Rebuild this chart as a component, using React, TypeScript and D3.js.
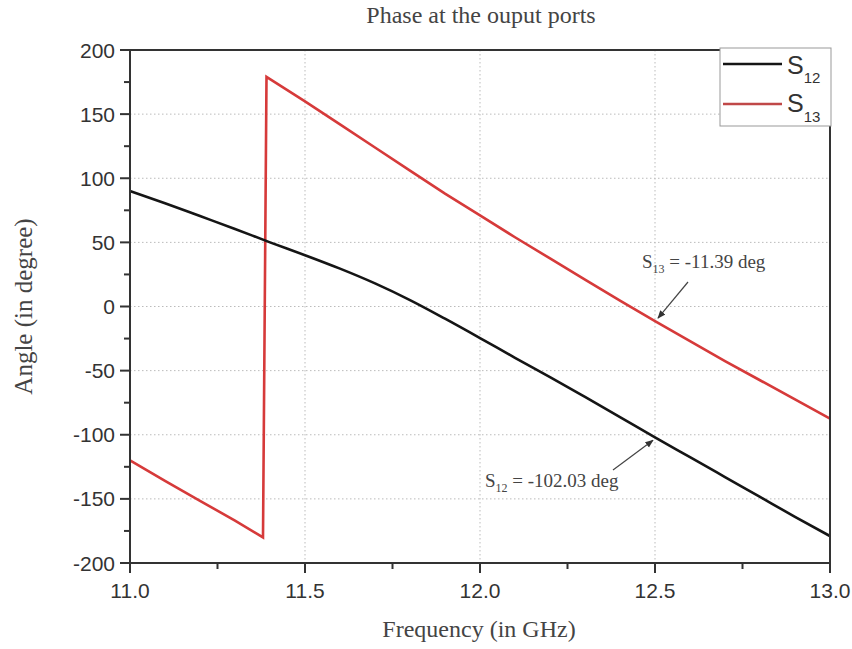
import * as d3 from "d3";

// frequency grid (GHz) and phase values (deg)
const s12Freq = [11.0, 11.1, 11.2, 11.3, 11.4, 11.5, 11.6, 11.7, 11.8, 11.9, 12.0, 12.1, 12.2, 12.3, 12.4, 12.5, 12.6, 12.7, 12.8, 12.9, 13.0];
const s12Phase = [90, 80.5, 70.5, 60.5, 50, 40, 29.5, 18, 5, -9.5, -24.6, -40, -55, -70.5, -86.2, -102.03, -117.5, -133, -148.5, -164, -179];

const s13Freq = [11.0, 11.1, 11.2, 11.3, 11.38, 11.39, 11.5, 11.6, 11.7, 11.8, 11.9, 12.0, 12.1, 12.2, 12.3, 12.4, 12.5, 12.6, 12.7, 12.8, 12.9, 13.0];
const s13Phase = [-120, -136, -151.5, -167, -180, 179, 160, 142, 124, 106, 88, 71, 54, 37.5, 21, 4.5, -11.39, -27, -42.5, -57.5, -72.5, -87.5];

const xTicks = [11.0, 11.5, 12.0, 12.5, 13.0];
const xMinor = [11.25, 11.75, 12.25, 12.75];
const yTicks = [200, 150, 100, 50, 0, -50, -100, -150, -200];
const yMinor = [175, 125, 75, 25, -25, -75, -125, -175];

const W = 852;
const H = 649;
const margin = { top: 50, right: 22, bottom: 86, left: 130 };

const App = () => {
  const x = d3.scaleLinear().domain([11, 13]).range([margin.left, W - margin.right]);
  const y = d3.scaleLinear().domain([-200, 200]).range([H - margin.bottom, margin.top]);

  const line = d3
    .line<[number, number]>()
    .x((d) => x(d[0]))
    .y((d) => y(d[1]));
  const smooth = d3
    .line<[number, number]>()
    .x((d) => x(d[0]))
    .y((d) => y(d[1]))
    .curve(d3.curveMonotoneX);

  const s12 = s12Freq.map((f, i) => [f, s12Phase[i]] as [number, number]);
  const s13 = s13Freq.map((f, i) => [f, s13Phase[i]] as [number, number]);

  const x0 = x(11);
  const x1 = x(13);
  const y0 = y(-200);
  const y1 = y(200);
  const axisColor = "#333";
  const sans = "Liberation Sans, Arial, sans-serif";
  const serif = "Liberation Serif, Times New Roman, serif";

  // points the two annotation arrows aim at
  const p13 = [x(12.5), y(-11.39)];
  const p12 = [x(12.5), y(-102.03)];

  return (
    <svg width={W} height={H} style={{ position: "absolute", left: 0, top: 0 }}>
      <defs>
        <marker id="arrow" viewBox="0 0 10 10" refX="9" refY="5" markerWidth="7" markerHeight="7" orient="auto">
          <path d="M0,1 L10,5 L0,9 Z" fill="#333" />
        </marker>
      </defs>
      <rect width={W} height={H} fill="#fff" />

      {/* title */}
      <text x={481} y={23} textAnchor="middle" fontFamily={serif} fontSize={24} fill="#444">
        Phase at the ouput ports
      </text>

      {/* grid */}
      <g stroke="#bbb" strokeDasharray="1.5,2.5" strokeWidth={1}>
        {xTicks.slice(1, -1).map((t) => (
          <line key={t} x1={x(t)} x2={x(t)} y1={y1} y2={y0} />
        ))}
        {yTicks.slice(1, -1).map((t) => (
          <line key={t} x1={x0} x2={x1} y1={y(t)} y2={y(t)} />
        ))}
      </g>

      {/* curves */}
      <path d={line(s13) ?? ""} fill="none" stroke="#d63a3a" strokeWidth={2.6} />
      <path d={smooth(s12) ?? ""} fill="none" stroke="#151515" strokeWidth={2.6} />

      {/* frame */}
      <rect x={x0} y={y1} width={x1 - x0} height={y0 - y1} fill="none" stroke={axisColor} strokeWidth={2} />

      {/* ticks */}
      <g stroke={axisColor} strokeWidth={2}>
        {yTicks.map((t) => (
          <line key={t} x1={x0 - 10} x2={x0} y1={y(t)} y2={y(t)} />
        ))}
        {yMinor.map((t) => (
          <line key={t} x1={x0 - 6} x2={x0} y1={y(t)} y2={y(t)} />
        ))}
        {xTicks.map((t) => (
          <line key={t} x1={x(t)} x2={x(t)} y1={y0} y2={y0 + 10} />
        ))}
        {xMinor.map((t) => (
          <line key={t} x1={x(t)} x2={x(t)} y1={y0} y2={y0 + 6} />
        ))}
      </g>
      <g fontFamily={sans} fontSize={21} fill="#333">
        {yTicks.map((t) => (
          <text key={t} x={x0 - 15} y={y(t)} dy="0.36em" textAnchor="end">
            {t}
          </text>
        ))}
        {xTicks.map((t) => (
          <text key={t} x={x(t)} y={y0 + 35} textAnchor="middle">
            {t.toFixed(1)}
          </text>
        ))}
      </g>

      {/* axis titles */}
      <text x={479} y={637} textAnchor="middle" fontFamily={serif} fontSize={24} fill="#444">
        Frequency (in GHz)
      </text>
      <text
        transform={`translate(32,${(y0 + y1) / 2}) rotate(-90)`}
        textAnchor="middle"
        fontFamily={serif}
        fontSize={25}
        fill="#444"
      >
        Angle (in degree)
      </text>

      {/* annotations */}
      <text x={642} y={268} fontFamily={serif} fontSize={19} fill="#444">
        S<tspan fontSize={12} dy={5}>13</tspan>
        <tspan dy={-5}> = -11.39 deg</tspan>
      </text>
      <line x1={688} y1={282} x2={p13[0] + 3} y2={p13[1] - 3} stroke="#444" strokeWidth={1.2} markerEnd="url(#arrow)" />

      <text x={485} y={487} fontFamily={serif} fontSize={19} fill="#444">
        S<tspan fontSize={12} dy={5}>12</tspan>
        <tspan dy={-5}> = -102.03 deg</tspan>
      </text>
      <line x1={613} y1={470} x2={p12[0] - 2} y2={p12[1] + 3} stroke="#444" strokeWidth={1.2} markerEnd="url(#arrow)" />

      {/* legend */}
      <g>
        <rect x={720} y={48} width={111} height={78} fill="#fff" stroke="#999" strokeWidth={1} />
        <line x1={723} x2={782} y1={64} y2={64} stroke="#151515" strokeWidth={2.6} />
        <line x1={723} x2={782} y1={104} y2={104} stroke="#c04848" strokeWidth={2.6} />
        <g fontFamily={sans} fill="#333">
          <text x={787} y={74} fontSize={25}>
            S<tspan fontSize={15} dy={9}>12</tspan>
          </text>
          <text x={787} y={112} fontSize={25}>
            S<tspan fontSize={15} dy={10}>13</tspan>
          </text>
        </g>
      </g>
    </svg>
  );
};

export default App;
